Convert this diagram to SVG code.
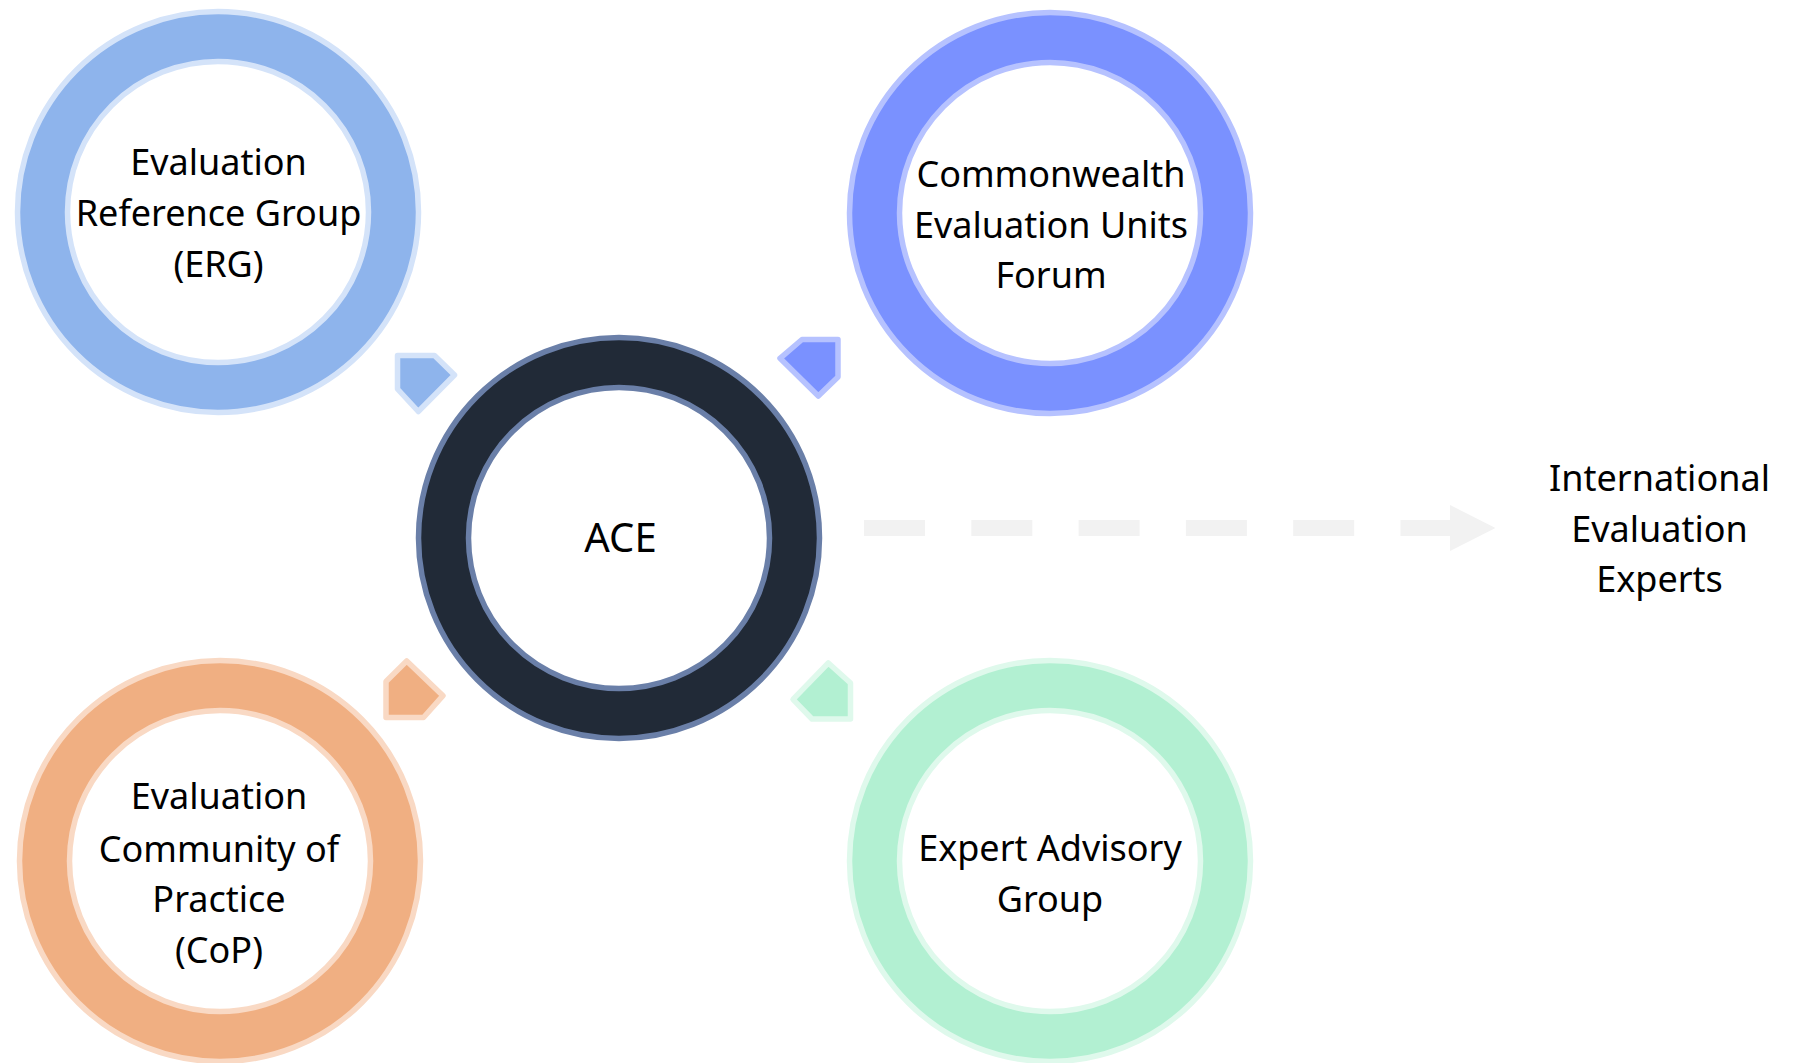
<svg xmlns="http://www.w3.org/2000/svg" width="1801" height="1063" viewBox="0 0 1801 1063">
  <style>
    .lbl { font-family: "Noto Sans", "Open Sans", "DejaVu Sans", sans-serif; font-size: 36px; fill: #000000; text-anchor: middle; }
    .ring { stroke-width: 5.5; }
    .hole { fill: #FFFFFF; stroke-width: 5.5; }
    .ptr { stroke-width: 5.5; stroke-linejoin: round; }
  </style>
  <rect x="0" y="0" width="1801" height="1063" fill="#FFFFFF"/>

  <g id="connectors">
    <polygon class="ptr" points="397.5,355.5 434.5,355.5 454.5,375 418.3,411.5 397.5,389" fill="#8EB4EC" stroke="#D4E3F9"/>
    <polygon class="ptr" points="780,358.3 802,339.5 838,339.5 838,377 818.3,396" fill="#7A91FF" stroke="#B6C2FF"/>
    <polygon class="ptr" points="406.7,661 443,695.7 423.5,717.5 386,717.5 386,681.5" fill="#F0AF82" stroke="#F9D9C4"/>
    <polygon class="ptr" points="828.3,663 850.5,683 850.5,719 812,719 793,699.3" fill="#B2F0D2" stroke="#DFF9EC"/>
    <line x1="864" y1="528" x2="1451" y2="528" stroke="#F2F2F2" stroke-width="16" stroke-dasharray="61 46.3"/>
    <polygon points="1450,505 1495.5,528 1450,551" fill="#F2F2F2"/>
  </g>

  <g id="node-erg">
    <circle class="ring" cx="218" cy="212" r="200.5" fill="#8EB4EC" stroke="#D4E3F9"/>
    <circle class="hole" cx="218" cy="212" r="150.5" stroke="#D4E3F9"/>
    <text class="lbl" x="218.5" y="174.5">Evaluation</text>
    <text class="lbl" x="218.5" y="226">Reference Group</text>
    <text class="lbl" x="218.5" y="276.5">(ERG)</text>
  </g>

  <g id="node-ceuf">
    <circle class="ring" cx="1050" cy="213" r="200.5" fill="#7A91FF" stroke="#B6C2FF"/>
    <circle class="hole" cx="1050" cy="213" r="150.5" stroke="#B6C2FF"/>
    <text class="lbl" x="1051" y="186.7">Commonwealth</text>
    <text class="lbl" x="1051" y="238.3">Evaluation Units</text>
    <text class="lbl" x="1051" y="288.3">Forum</text>
  </g>

  <g id="node-ace">
    <circle class="ring" cx="619" cy="538" r="200.5" fill="#212A37" stroke="#6A7FA8"/>
    <circle class="hole" cx="619" cy="538" r="150.5" stroke="#6A7FA8"/>
    <text class="lbl" x="620.5" y="552" style="font-size:40px">ACE</text>
  </g>

  <g id="node-cop">
    <circle class="ring" cx="220" cy="861" r="200.5" fill="#F0AF82" stroke="#F9D9C4"/>
    <circle class="hole" cx="220" cy="861" r="150.5" stroke="#F9D9C4"/>
    <text class="lbl" x="219" y="809.3">Evaluation</text>
    <text class="lbl" x="219" y="861.7">Community of</text>
    <text class="lbl" x="219" y="911.7">Practice</text>
    <text class="lbl" x="219" y="963.3">(CoP)</text>
  </g>

  <g id="node-eag">
    <circle class="ring" cx="1050" cy="861" r="200.5" fill="#B2F0D2" stroke="#DFF9EC"/>
    <circle class="hole" cx="1050" cy="861" r="150.5" stroke="#DFF9EC"/>
    <text class="lbl" x="1050" y="861">Expert Advisory</text>
    <text class="lbl" x="1050" y="911.7">Group</text>
  </g>

  <g id="node-iee">
    <text class="lbl" x="1659.5" y="490.7">International</text>
    <text class="lbl" x="1659.5" y="541.7">Evaluation</text>
    <text class="lbl" x="1659.5" y="591.7">Experts</text>
  </g>
</svg>
